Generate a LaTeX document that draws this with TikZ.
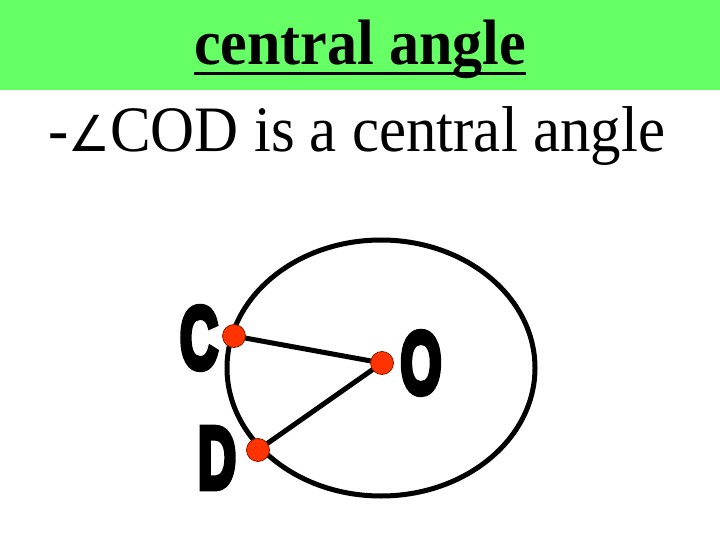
\documentclass[tikz,border=0pt]{standalone}
\usepackage{fontspec}
\setmainfont{Liberation Serif}
\newfontfamily\impact[BoldFeatures={FakeBold=7}]{Liberation Sans}
\newfontfamily\symfnt{DejaVu Sans}
\definecolor{bandgreen}{HTML}{66FF66}
\definecolor{dotred}{HTML}{FF3300}
\definecolor{dotedge}{HTML}{8A1A00}
\tikzset{
  seg/.style={line width=5pt, black},
  ptdot/.style={circle, fill=dotred, draw=dotedge, line width=0.8pt, minimum size=23pt, inner sep=0pt},
  ptlabel/.style={font=\impact\bfseries\fontsize{88}{90}\selectfont, xscale=0.6, inner sep=0pt}
}
\begin{document}
\begin{tikzpicture}[x=1pt,y=-1pt]
\useasboundingbox (0,0) rectangle (720,540);
\fill[bandgreen] (0,0) rectangle (720,90);
\node[inner sep=0pt, anchor=base, yscale=1.07, font=\bfseries\fontsize{60}{66}\selectfont] (title) at (360,65) {central angle};
\draw[line width=3pt] ([yshift=-9pt]title.base west) -- ([yshift=-9pt]title.base east);
\node[inner sep=0pt, anchor=base west, xscale=1.015, yscale=1.08, font=\fontsize{60}{66}\selectfont] (sub) at (48,152) {-{\symfnt\fontsize{46}{50}\selectfont ∠}COD is a central angle};
\draw[line width=5pt] (381,368) ellipse [x radius=154, y radius=128];
\coordinate (C) at (234,336);
\coordinate (O) at (382,363);
\coordinate (D) at (258,450);
\draw[seg] (C) -- (O) -- (D);
\node[ptdot] (Cd) at (C) {};
\node[ptdot] (Od) at (O) {};
\node[ptdot] (Dd) at (D) {};
\node[ptlabel] (Cl) at (199,338) {C};
\node[ptlabel] (Ol) at (421,363) {O};
\node[ptlabel] (Dl) at (217,458) {D};
\end{tikzpicture}
\end{document}
